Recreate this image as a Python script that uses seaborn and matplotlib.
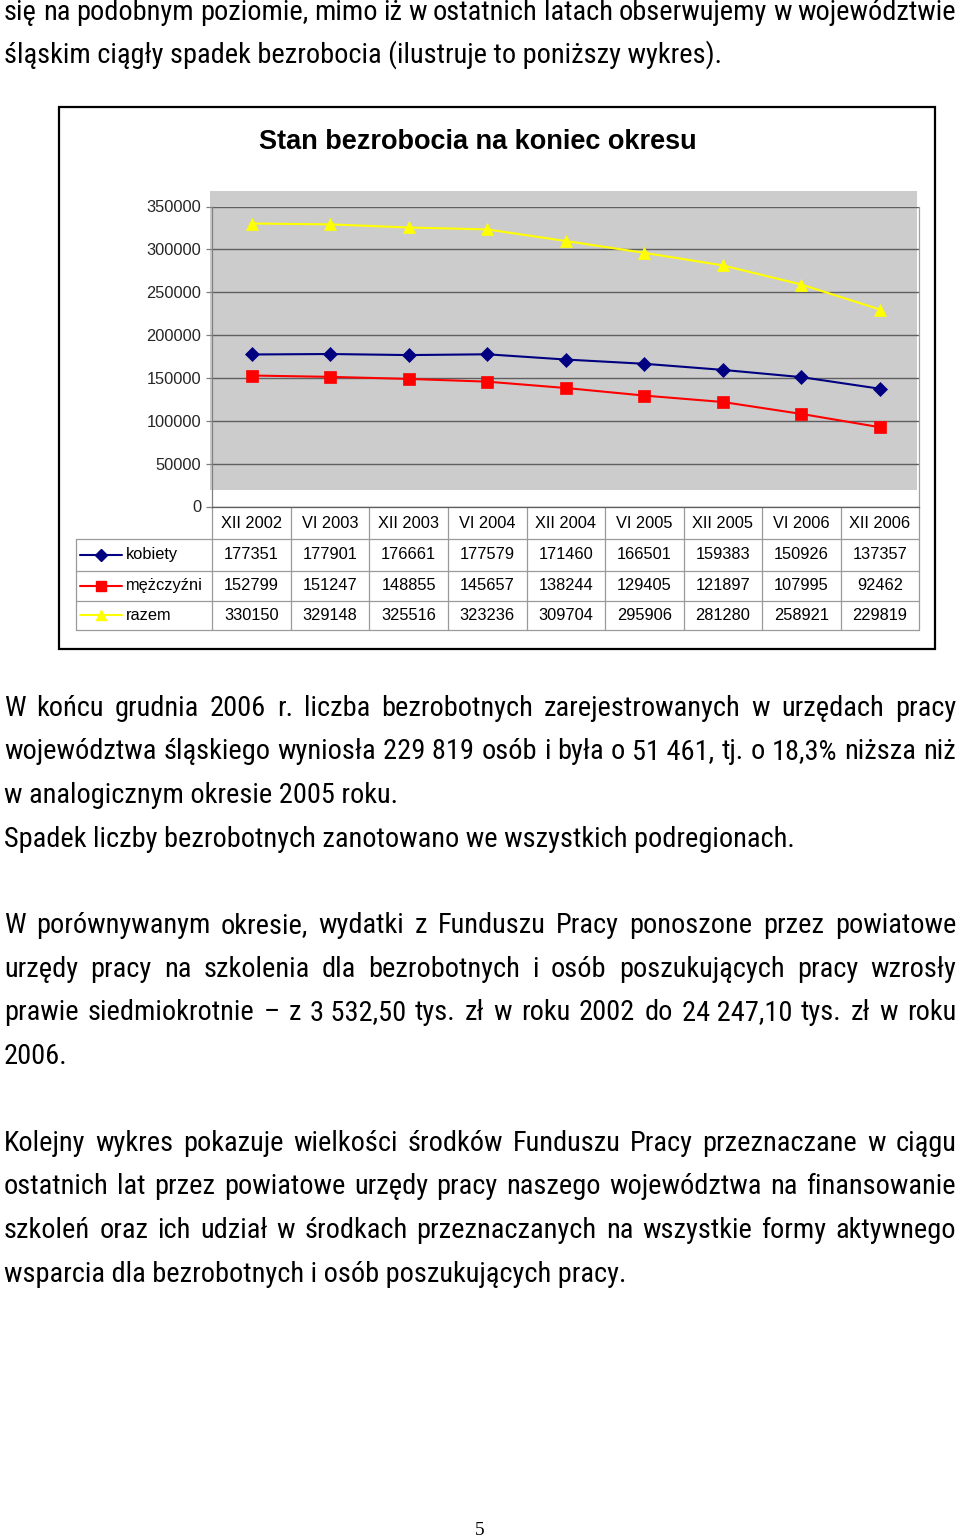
import os

import matplotlib

matplotlib.use("Agg")
import matplotlib.pyplot as plt
import pandas as pd
import seaborn as sns
from matplotlib import font_manager as fm
from matplotlib.font_manager import FontProperties
from matplotlib.patches import Rectangle

sns.set_theme(style="white")
plt.rcParams["font.family"] = ["Liberation Sans", "DejaVu Sans"]

W, H = 960, 1537

# --- data -----------------------------------------------------------------
categories = ["XII 2002", "VI 2003", "XII 2003", "VI 2004", "XII 2004",
              "VI 2005", "XII 2005", "VI 2006", "XII 2006"]
series_names = ["kobiety", "mężczyźni", "razem"]
kobiety = [177351, 177901, 176661, 177579, 171460, 166501, 159383, 150926, 137357]
mezczyzni = [152799, 151247, 148855, 145657, 138244, 129405, 121897, 107995, 92462]
razem = [330150, 329148, 325516, 323236, 309704, 295906, 281280, 258921, 229819]
y_ticks = [0, 50000, 100000, 150000, 200000, 250000, 300000, 350000]

title = "Stan bezrobocia na koniec okresu"

# (text, justified, baseline y in px)
para_lines = [
    ("się na podobnym poziomie, mimo iż w ostatnich latach obserwujemy w województwie", True, 20),
    ("śląskim ciągły spadek bezrobocia (ilustruje to poniższy wykres).", False, 63),
    ("W końcu grudnia 2006 r. liczba bezrobotnych zarejestrowanych w urzędach pracy", True, 716),
    ("województwa śląskiego wyniosła 229\u00a0819 osób i była o 51\u00a0461, tj. o 18,3% niższa niż", True, 759),
    ("w analogicznym okresie 2005 roku.", False, 803),
    ("Spadek liczby bezrobotnych zanotowano we wszystkich podregionach.", False, 847),
    ("W porównywanym okresie, wydatki z Funduszu Pracy ponoszone przez powiatowe", True, 933),
    ("urzędy pracy na szkolenia dla bezrobotnych i osób poszukujących pracy wzrosły", True, 977),
    ("prawie siedmiokrotnie \u2013 z 3\u00a0532,50 tys. zł w roku 2002 do 24\u00a0247,10 tys. zł w roku", True, 1020),
    ("2006.", False, 1064),
    ("Kolejny wykres pokazuje wielkości środków Funduszu Pracy przeznaczane w ciągu", True, 1151),
    ("ostatnich lat przez powiatowe urzędy pracy naszego województwa na finansowanie", True, 1194),
    ("szkoleń oraz ich udział w środkach przeznaczanych na wszystkie formy aktywnego", True, 1238),
    ("wsparcia dla bezrobotnych i osób poszukujących pracy.", False, 1282),
]
page_number = "5"

colors = {"kobiety": "#000080", "mężczyźni": "#ff0000", "razem": "#ffff00"}
markers = {"kobiety": "D", "mężczyźni": "s", "razem": "^"}
msizes = {"kobiety": 7, "mężczyźni": 8.5, "razem": 8.5}


def font_file(basename, fallback_family):
    for f in fm.fontManager.ttflist:
        if os.path.basename(f.fname).lower().startswith(basename.lower()):
            return FontProperties(fname=f.fname)
    return FontProperties(family=fallback_family)


sans = font_file("LiberationSans-Regular", ["Liberation Sans", "DejaVu Sans"])
sans_bold = font_file("LiberationSans-Bold", ["Liberation Sans", "DejaVu Sans"])
if not sans_bold.get_file():
    sans_bold.set_weight("bold")
body = FontProperties(family=["Roboto Condensed", "Barlow Semi Condensed", "Liberation Sans"])
serif = FontProperties(family=["Liberation Serif", "DejaVu Serif"], size=14)

sans.set_size(11.8)
sans_bold.set_size(19.5)
body.set_size(20)

# --- layout (pixels) --------------------------------------------------------
X_LEFT, X_RIGHT = 4, 956
PLOT_L, PLOT_R, PLOT_T, PLOT_B = 212.3, 919.3, 206.5, 506.5
COL_W = (PLOT_R - PLOT_L) / len(categories)
TAB_L = 75.7
ROW_Y = [506.5, 539.3, 570.5, 600.5, 629.5]

fig = plt.figure(figsize=(W / 100, H / 100), dpi=100)

# page axes in pixel coordinates
page = fig.add_axes([0, 0, 1, 1])
page.set_xlim(0, W)
page.set_ylim(H, 0)
page.axis("off")
renderer = fig.canvas.get_renderer()

# size the body font so that a free-running line is as long as in the scan
probe = page.text(0, 0, para_lines[5][0], fontproperties=body)
body.set_size(body.get_size() * 789 / probe.get_window_extent(renderer).width)
probe.remove()


def draw_body_line(text, justified, y):
    if not justified:
        page.text(X_LEFT, y, text, va="baseline", ha="left", fontproperties=body, color="black")
        return
    words = text.split(" ")
    arts = [page.text(0, y, w, va="baseline", ha="left", fontproperties=body, color="black")
            for w in words]
    widths = [a.get_window_extent(renderer).width for a in arts]
    gap = (X_RIGHT - X_LEFT - sum(widths)) / (len(words) - 1)
    x = X_LEFT
    for a, w in zip(arts, widths):
        a.set_x(x)
        x += w + gap


for text, justified, y in para_lines:
    draw_body_line(text, justified, y)

page.text(480, 1535, page_number, ha="center", va="baseline", fontproperties=serif, color="black")

# chart frame and title
page.add_patch(Rectangle((59, 107), 876, 542, fill=False, ec="black", lw=1.6))
page.text(478, 142, title, ha="center", va="center", fontproperties=sans_bold, color="black")

# data table under the chart
grid_c = "#9a9a9a"
for k in range(len(categories) + 1):
    x = PLOT_L + k * COL_W
    page.plot([x, x], [ROW_Y[0], ROW_Y[-1]], color=grid_c, lw=0.9)
page.plot([TAB_L, TAB_L], [ROW_Y[1], ROW_Y[-1]], color=grid_c, lw=0.9)
for y in ROW_Y[1:]:
    page.plot([TAB_L, PLOT_R], [y, y], color=grid_c, lw=0.9)

for k, cat in enumerate(categories):
    page.text(PLOT_L + (k + 0.5) * COL_W, (ROW_Y[0] + ROW_Y[1]) / 2 + 1, cat,
              ha="center", va="center", fontproperties=sans, color="black")

for r, (name, vals) in enumerate(zip(series_names, [kobiety, mezczyzni, razem])):
    yc = (ROW_Y[r + 1] + ROW_Y[r + 2]) / 2
    page.plot([80, 122], [yc, yc], color=colors[name], lw=1.5)
    page.plot([101], [yc], marker=markers[name], ms=msizes[name] * 0.85,
              color=colors[name], mec=colors[name])
    page.text(126, yc, name, ha="left", va="center", fontproperties=sans, color="black")
    for k, v in enumerate(vals):
        page.text(PLOT_L + (k + 0.5) * COL_W, yc, str(v), ha="center", va="center",
                  fontproperties=sans, color="black")

# --- line chart -----------------------------------------------------------
ax = fig.add_axes([PLOT_L / W, 1 - PLOT_B / H, (PLOT_R - PLOT_L) / W, (PLOT_B - PLOT_T) / H])
ax.set_facecolor("none")

df = pd.DataFrame({
    "okres": list(range(len(categories))) * 3,
    "seria": [s for s in series_names for _ in categories],
    "liczba": kobiety + mezczyzni + razem,
})

ax.add_patch(Rectangle((-0.003, 0.055), 0.9998, 0.998, transform=ax.transAxes,
                       facecolor="#cccccc", edgecolor="none", clip_on=False, zorder=0))

sns.lineplot(data=df, x="okres", y="liczba", hue="seria", style="seria",
             hue_order=series_names, style_order=series_names,
             palette=colors, markers=markers, dashes=False, lw=1.5,
             legend=False, ax=ax, zorder=3)
for line, name in zip(ax.lines, series_names):
    line.set_markersize(msizes[name])
    line.set_markeredgecolor(colors[name])
    line.set_markeredgewidth(0.5)
    line.set_clip_on(False)

ax.set_xlim(-0.5, len(categories) - 0.5)
ax.set_ylim(0, 350000)
ax.set_yticks(y_ticks)
ax.set_yticklabels([str(t) for t in y_ticks], fontproperties=sans)
ax.set_xticks([])
ax.set_xlabel("")
ax.set_ylabel("")
ax.grid(axis="y", color="#5f5f5f", lw=1.0)
ax.set_axisbelow(True)
ax.tick_params(axis="y", left=True, length=4, width=0.9, color="#808080", pad=4)
ax.spines["top"].set_visible(False)
ax.spines["left"].set_color("#808080")
ax.spines["right"].set_color("#a0a0a0")
ax.spines["bottom"].set_color("#5f5f5f")
for s in ax.spines.values():
    s.set_linewidth(0.9)

fig.savefig("out.png", dpi=100)
